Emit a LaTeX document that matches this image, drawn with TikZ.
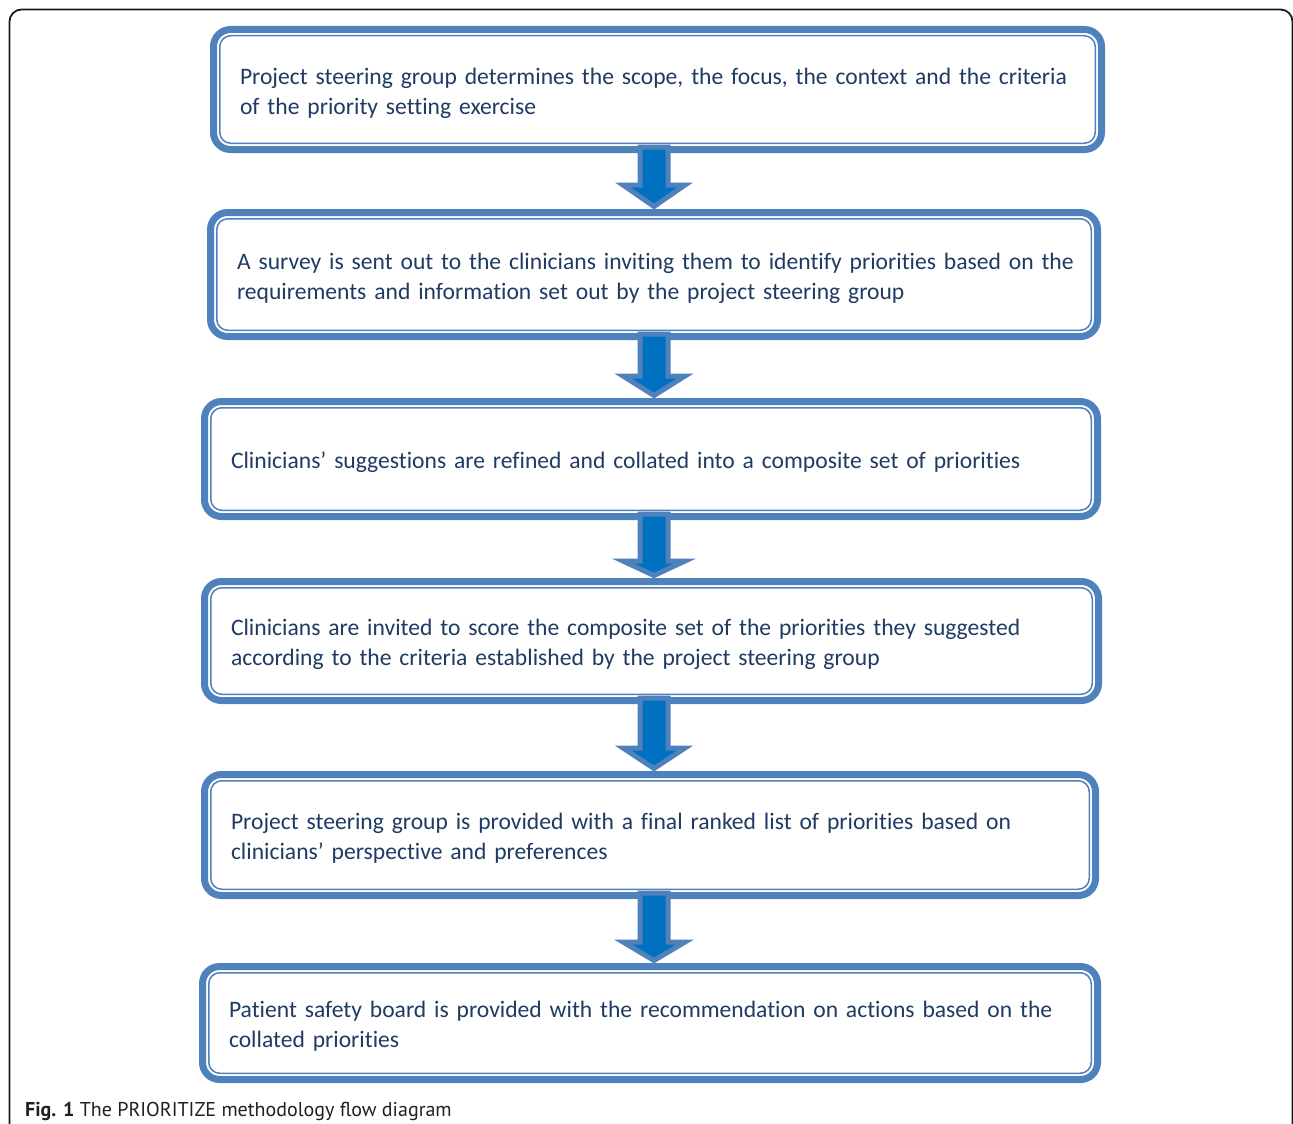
\documentclass[tikz,border=0pt]{standalone}
\usepackage{fontspec}
\setmainfont{Carlito}[Ligatures=NoCommon]
\newfontfamily\capfont{PT Sans}
\usetikzlibrary{calc}
\definecolor{boxblue}{HTML}{4F81BD}
\definecolor{arrowfill}{HTML}{0070C0}
\definecolor{textnavy}{HTML}{1F3B63}
\definecolor{captext}{HTML}{231F20}
\tikzset{
  pbox/.style={draw=boxblue, line width=7pt, rounded corners=17pt, fill=white,
    text=textnavy, align=left, inner sep=0pt,
    font=\fontsize{23.6}{30}\selectfont,
    execute at begin node={\rule{0pt}{23.5pt}},
    path picture={\draw[boxblue, line width=1.5pt, rounded corners=11pt]
      ([shift={(6.25pt,-6.25pt)}]path picture bounding box.north west) rectangle
      ([shift={(-6.25pt,6.25pt)}]path picture bounding box.south east);}},
  flowarr/.style={draw=boxblue, fill=arrowfill, line width=5pt, line join=miter},
  frame/.style={draw=black!90, line width=1.8pt, rounded corners=12pt}
}
% #1 source, #2 target, #3 head length
\newcommand{\flowarrow}[3]{%
  \path let \p1=(#1.south), \p2=(#2.north) in
    [flowarr] (640pt,\y1+6pt) -- (640pt,\y2+#3pt) -- (623pt,\y2+#3pt)
    -- (654pt,\y2+2.5pt) -- (685pt,\y2+#3pt) -- (668pt,\y2+#3pt)
    -- (668pt,\y1+6pt) -- cycle;}
\begin{document}
\begin{tikzpicture}[x=1pt,y=-1pt]
\useasboundingbox (0,0) rectangle (1293,1124);
\begin{scope}
\clip (0,0) rectangle (1293,1124);
\draw[frame] (9.5,1140) -- (9.5,9.5) -- (1292.5,9.5) -- (1292.5,1140);
\end{scope}

\node[pbox, minimum width=888pt, minimum height=120pt, text width=835pt] (b1) at (657.5,89.5)
  {\mbox{Project steering group determines the scope, the focus, the context and the criteria}\\\mbox{of the priority setting exercise}};
\node[pbox, minimum width=887pt, minimum height=124pt, text width=834pt] (b2) at (654,274.5)
  {\mbox{A survey is sent out to the clinicians inviting them to identify priorities based on the}\\\mbox{requirements and information set out by the project steering group}};
\node[pbox, minimum width=893pt, minimum height=115pt, text width=840pt] (b3) at (651,459)
  {\mbox{Clinicians’ suggestions are refined and collated into a composite set of priorities}};
\node[pbox, minimum width=894pt, minimum height=119pt, text width=841pt] (b4) at (651.5,641)
  {\mbox{Clinicians are invited to score the composite set of the priorities they suggested}\\\mbox{according to the criteria established by the project steering group}};
\node[pbox, minimum width=891pt, minimum height=121pt, text width=838pt] (b5) at (650,835)
  {\mbox{Project steering group is provided with a final ranked list of priorities based on}\\\mbox{clinicians’ perspective and preferences}};
\node[pbox, minimum width=895pt, minimum height=113pt, text width=842pt] (b6) at (650,1023)
  {\mbox{Patient safety board is provided with the recommendation on actions based on the}\\\mbox{collated priorities}};

\flowarrow{b1}{b2}{24}
\flowarrow{b2}{b3}{22}
\flowarrow{b3}{b4}{17}
\flowarrow{b4}{b5}{23}
\flowarrow{b5}{b6}{21}

\node[anchor=base west, inner sep=0pt, text=captext, font=\capfont\fontsize{20}{23}\selectfont] (cap) at (25,1116)
  {\textbf{Fig. 1} The PRIORITIZE methodology flow diagram};
\end{tikzpicture}
\end{document}
